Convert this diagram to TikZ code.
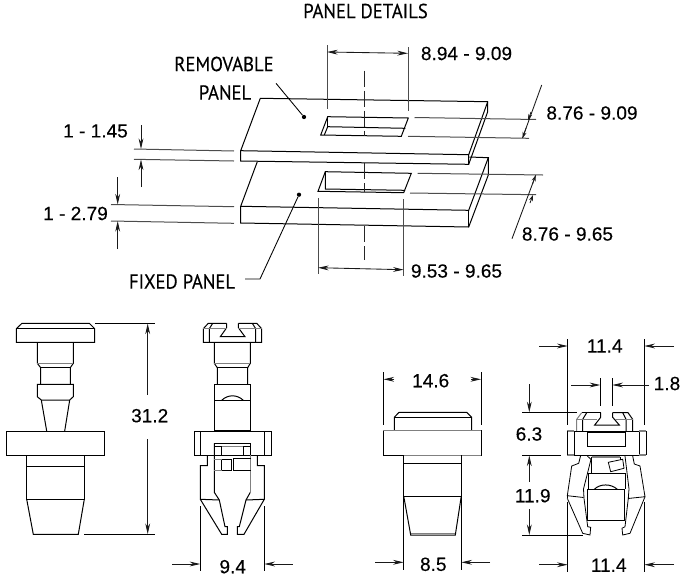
\documentclass[tikz,border=0pt]{standalone}
\usepackage{fontspec}
\setmainfont{Liberation Sans}
\newfontfamily\capfont[FakeStretch=0.92,FakeBold=0.25]{PT Sans}
\newfontfamily\sizefont[FakeBold=0.3]{Liberation Sans}
\usetikzlibrary{arrows.meta}
\tikzset{
  part/.style={line width=0.75pt,line join=miter,black},
  faint/.style={line width=0.75pt,black!50},
  dimline/.style={line width=0.65pt,black!90},
  extline/.style={line width=0.75pt,black!70},
  dimhead/.style={Stealth[length=8pt,width=3.6pt]},
  dimarrow/.style={line width=0.65pt,black!90,-{Stealth[length=8pt,width=3.6pt]}},
  smallarrow/.style={line width=0.6pt,black!90,-{Stealth[length=4.5pt,width=3pt]}},
  size/.style={font=\sizefont\fontsize{14.3pt}{16pt}\selectfont,inner sep=0pt,text=black},
  title/.style={font=\capfont\fontsize{15.2pt}{16pt}\selectfont,inner sep=0pt,text=black},
  centre/.style={line width=0.7pt,black!85,dash pattern=on 12pt off 3pt},
  lead/.style={line width=0.65pt,black},
  leaddot/.style={circle,fill=black,inner sep=0pt,minimum size=3.2pt}
}
\begin{document}
\begin{tikzpicture}[x=0.75pt,y=-0.75pt]
\useasboundingbox (0,0) rectangle (682,579);
% --- panel titles
\node[title] (tDetails) at (365.5,11) {PANEL DETAILS};
\node[title] (tRem) at (224,64) {REMOVABLE};
\node[title] (tPan) at (225,92.5) {PANEL};
\node[title] (tFix) at (182,281.5) {FIXED PANEL};
% --- upper panel
\draw[part] (260.3,98.3) -- (487.7,101.7) -- (487.7,111.7) -- (468.7,164.3) -- (240.7,161) -- (240.7,150.7) -- cycle;
\draw[part] (240.7,150.7) -- (468.7,154.7) -- (468.7,164.3);
\draw[part] (468.7,154.7) -- (487.7,101.7);
\draw[part] (327.7,116.7) -- (408.3,118) -- (401.3,136.3) -- (320.7,135) -- cycle;
\draw[part] (324.3,135) -- (327.7,126.7) -- (405.3,128.3);
\draw[part] (327.7,116.7) -- (327.7,126.7);
% --- lower panel
\draw[part] (257.3,161.7) -- (240.7,206.3) -- (468.7,210.3) -- (488.3,157.7) -- (469.3,157);
\draw[part] (240.7,206.3) -- (240.7,223) -- (468.7,227) -- (488.3,175) -- (488.3,157.7);
\draw[part] (468.7,210.3) -- (468.7,227);
\draw[part] (325.3,171.7) -- (411.3,173.3) -- (403.7,192.7) -- (318,191.3) -- cycle;
\draw[part] (325.3,171.7) -- (325.3,189) -- (405,190.3);
% --- centre line
\draw[centre] (364,70.7) -- (364,136);
\draw[centre] (364,163) -- (364,192);
\draw[centre] (364,226) -- (364,260);
% --- panel dimensions
\draw[extline] (327,45) -- (327,109);
\draw[extline] (408,47) -- (408,111);
\draw[dimline,{Stealth[length=8pt,width=3.6pt]}-{Stealth[length=8pt,width=3.6pt]}] (327,52) -- (408,53.3);
\node[size] (d894) at (466.5,53.5) {8.94 - 9.09};
\draw[extline] (414.5,117.5) -- (536,119.5);
\draw[extline] (408,136.3) -- (529,138.3);
\draw[dimline] (541.7,85) -- (522.5,138);
\draw[smallarrow] (531,112) -- (528.2,120);
\draw[smallarrow] (526,128) -- (522.7,138);
\node[size] (d876a) at (592,113) {8.76 - 9.09};
\draw[extline] (417.7,173.3) -- (543,175);
\draw[extline] (410,193) -- (536,194.7);
\draw[dimline] (535.7,175.3) -- (512,238.7);
\draw[smallarrow] (532.5,184) -- (535.7,175.3);
\draw[smallarrow] (530,203) -- (533,195);
\node[size] (d876b) at (567.5,234) {8.76 - 9.65};
\draw[extline] (318,198) -- (318,274);
\draw[extline] (403.7,199) -- (403.7,276);
\draw[dimline,{Stealth[length=8pt,width=3.6pt]}-{Stealth[length=8pt,width=3.6pt]}] (318,267.7) -- (403.7,269.7);
\node[size] (d953) at (456.5,271) {9.53 - 9.65};
\draw[extline] (134,149) -- (234,151);
\draw[extline] (134,159.3) -- (234,161);
\draw[dimarrow] (141,125) -- (141,149);
\draw[dimarrow] (141,187) -- (141,159.5);
\node[size] (d145) at (95.5,131) {1 - 1.45};
\draw[extline] (111,204.5) -- (234,206.7);
\draw[extline] (111,221) -- (234,223.3);
\draw[dimarrow] (117.7,177) -- (117.7,204.5);
\draw[dimarrow] (117.7,249) -- (117.7,221);
\node[size] (d279) at (75.5,213.5) {1 - 2.79};
% --- leaders
\node[leaddot] (dotRem) at (304,117) {};
\node[leaddot] (dotFix) at (299,194.7) {};
\coordinate (kneeFix) at (260,279);
\coordinate (endFix) at (245,279);
\coordinate (endRem) at (276,83.3);
\draw[lead] (endRem) -- (dotRem);
\draw[lead] (dotFix) -- (kneeFix) -- (endFix);
% --- part 1: side view
\draw[part] (22,323.3) -- (89.3,323.3) -- (94.7,328.7) -- (94.7,342.3) -- (16.3,342.3) -- (16.3,328.7) -- cycle;
\draw[part] (16.3,328.7) -- (94.7,328.7);
\draw[part] (37.3,342.3) -- (37.3,363.3) -- (40.7,367.7) -- (40.7,384.3);
\draw[part] (73.3,342.3) -- (73.3,363.3) -- (70.3,367.7) -- (70.3,384.3);
\draw[faint] (37.3,363.3) -- (73.3,363.3);
\draw[part] (40.7,367.7) -- (70.3,367.7);
\draw[part] (37.3,384.3) -- (73.3,384.3) -- (73.3,396.7) -- (69.7,400) -- (41.3,400) -- (37.3,396.7) -- cycle;
\draw[part] (41.3,400) -- (46.7,431);
\draw[part] (69.7,400) -- (64.7,431);
\draw[part] (6.3,431) rectangle (104.7,455.3);
\draw[part] (26.7,455.3) -- (26.7,499.3) -- (84.3,499.3) -- (84.3,455.3);
\draw[part] (26.7,466) -- (84.3,466);
\draw[part] (26.7,499.3) -- (33.3,534.3) -- (78.3,534.3) -- (84.3,499.3);
\draw[part] (95,323.3) -- (155,323.3);
\draw[part] (84,534.3) -- (155,534.3);
\draw[dimarrow] (147.7,394.7) -- (147.7,323.5);
\draw[dimarrow] (147.7,439) -- (147.7,534.1);
\node[size] (d312) at (149.7,415.7) {31.2};
% --- part 2: front view
\draw[part] (226.7,323.3) -- (208.3,323.3) -- (203.3,328.7) -- (203.3,342.3) -- (261.7,342.3) -- (261.7,328.7) -- (256.7,323.3) -- (238.3,323.3);
\draw[part] (226.7,323.3) -- (226.7,327.7) -- (220.3,336.7) -- (245,336.7) -- (238.3,327.7) -- (238.3,323.3);
\draw[part] (209.3,342.3) -- (209.3,328.7) -- (212.7,323.3);
\draw[part] (255.7,342.3) -- (255.7,328.7) -- (252.3,323.3);
\draw[faint] (203.3,328.7) -- (226.7,328.7);
\draw[faint] (238,328.7) -- (261.7,328.7);
\draw[part] (214.3,342.3) -- (214.3,363.3) -- (217.3,367.7) -- (217.3,384.3);
\draw[part] (250.3,342.3) -- (250.3,363.3) -- (247.7,367.7) -- (247.7,384.3);
\draw[faint] (214.3,363.3) -- (250.3,363.3);
\draw[part] (217.3,367.7) -- (247.7,367.7);
\draw[part] (214.3,384.3) rectangle (250.3,430.3);
\draw[part] (214.3,400.3) -- (250.3,400.3);
\draw[part] (221.7,400.3) .. controls (228,394.3) and (237,394.3) .. (243.3,400.3);
\draw[part,line width=1.1pt] (214.3,430.3) -- (250.3,430.3);
\draw[part] (194.3,431) rectangle (271.7,455.3);
\draw[part] (200.3,431) -- (200.3,455.3);
\draw[part] (264.3,431) -- (264.3,455.3);
\draw[part] (214.3,443.3) -- (250.3,443.3) -- (250.3,455.3);
\draw[part] (214.3,446) -- (221.7,446) -- (221.7,455.3);
\draw[faint] (221.7,446) -- (243.3,446);
\draw[part] (243.3,455.3) -- (243.3,446) -- (250.3,446);
\draw[part] (207.3,455.3) -- (207.3,465.7) -- (200.3,465.7) -- (200.3,499.3) -- (221.7,534.3) -- (227.3,534.3) -- (227.3,526.7) -- (225,526.7) -- (219.3,500) -- (214.3,492.3) -- (214.3,443.3);
\draw[part] (257.3,455.3) -- (257.3,465.7) -- (264.3,465.7) -- (264.3,499.3) -- (244,534.3) -- (237.3,534.3) -- (237.3,526.7) -- (239.3,526.7) -- (246,500) -- (250.3,492.3);
\draw[faint] (250.3,455.3) -- (250.3,492.3);
\draw[part] (200.3,499.3) -- (219.3,500);
\draw[part] (246,500) -- (264.3,499.3);
\draw[part] (221.7,459.3) rectangle (231.7,470.7);
\draw[part] (251,458.3) -- (233.3,458.3) -- (233.3,470.7) -- (251,470.7);
\draw[faint] (214.3,459.3) -- (221.7,459.3);
\draw[faint] (214.3,470.7) -- (221.7,470.7);
\draw[part] (200.3,506) -- (200.3,570.7);
\draw[part] (264.3,506) -- (264.3,570.7);
\draw[dimarrow] (172,564) -- (200.3,564);
\draw[dimarrow] (292.7,564) -- (264.3,564);
\node[size] (d94) at (232.7,566.7) {9.4};
% --- part 3: side view
\draw[part] (399,412.3) -- (466.7,412.3) -- (471.7,417.3) -- (471.7,430.7);
\draw[part] (399,412.3) -- (394.3,417.3) -- (394.3,430.7);
\draw[part] (394.3,417.3) -- (471.7,417.3);
\draw[part] (383,430.7) rectangle (481.3,455.3);
\draw[faint,line width=1pt] (383,430.7) -- (481.3,430.7);
\draw[faint,line width=1pt] (403.7,455.3) -- (481.3,455.3);
\draw[part] (403.7,455.3) -- (403.7,570);
\draw[part] (461.3,455.3) -- (461.3,570);
\draw[part] (403.7,463.3) -- (461.3,463.3);
\draw[part] (403.7,496) -- (461.3,496);
\draw[part] (403.7,496) -- (410.7,535) -- (455.3,535) -- (461.3,496);
\draw[faint] (410.7,533.3) -- (455.3,533.3);
\draw[part] (383.3,372) -- (383.3,425);
\draw[part] (481.3,372) -- (481.3,425);
\draw[dimarrow] (394.3,379.3) -- (383.5,379.3);
\draw[dimarrow] (471,379.3) -- (481.1,379.3);
\node[size] (d146) at (430.7,380.7) {14.6};
\draw[dimarrow] (375,562.3) -- (403.7,562.3);
\draw[dimarrow] (490,562.3) -- (461.3,562.3);
\node[size] (d85) at (433.3,564.3) {8.5};
% --- part 4: front view, turned
\draw[part] (600.7,412.7) -- (600.7,417.3) -- (594.7,425) -- (619.3,425) -- (612.7,417.3) -- (612.7,412.7);
\draw[part] (600.7,412.7) -- (581.7,412.7);
\draw[part] (612.7,412.7) -- (628,412.7) -- (632.7,419.3) -- (632.7,431);
\draw[faint] (581.7,412.7) -- (576.7,419.3) -- (576.7,431);
\draw[part] (582.7,431) -- (582.7,419.3) -- (586.7,412.7);
\draw[part] (626,431) -- (626,419.3) -- (622.7,412.7);
\draw[faint] (576.7,419.3) -- (597,419.3);
\draw[faint] (615,419.3) -- (632.7,419.3);
\draw[part] (574.3,431) rectangle (639.3,455);
\draw[faint,line width=0.9pt] (567.3,431) -- (574.3,431) (639.3,431) -- (646,431) (567.3,455) -- (574.3,455) (639.3,455) -- (646,455);
\draw[part,line width=0.5pt] (567.3,431) -- (567.3,455);
\draw[part,line width=0.5pt] (646,431) -- (646,455);
\draw[part] (625,432.3) -- (625,446.7) -- (587.7,446.7);
\draw[part,line width=1.1pt] (587.7,432.3) -- (587.7,446.7);
\draw[part] (587.7,432.3) -- (625,432.3);
\draw[faint,line width=1.2pt] (591.7,456.7) -- (620,456.7);
\draw[part,line width=0.6pt] (580.7,455.3) -- (578.7,463.3) -- (571.7,466) -- (567.3,495.7) -- (583.5,497.5);
\draw[part,line width=0.6pt] (567.3,498.3) -- (582.7,533.3) -- (590,535) -- (590.7,527.3) -- (587.7,526.7) -- (584,498.3) -- (583.5,489) -- (591,459.3) -- (587.3,456);
\draw[part,line width=0.6pt] (567.3,495.7) -- (567.3,498.3);
\draw[part,line width=0.6pt] (632.7,456) -- (634.3,464) -- (640,466) -- (645,496.7) -- (628,498.5);
\draw[part,line width=0.6pt] (645,496.7) -- (630,533.3) -- (622.7,535) -- (622,528.3) -- (625,526.7) -- (628.3,498.3) -- (629,489) -- (625,456);
\draw[part] (591.7,456.7) -- (591.7,473.3);
\draw[part] (620,456.7) -- (620,459.5);
\draw[part,line width=0.6pt] (608.3,462.3) -- (622.7,459.3) -- (624,468.3) -- (610.7,471.7) -- cycle;
\draw[part] (588.3,489.3) -- (588.3,473.3) -- (625,473.3) -- (625,489.3);
\draw[part] (587.3,489.3) rectangle (624.8,520);
\draw[part] (594.3,489.3) .. controls (600,483.5) and (611,483.5) .. (617.3,489.3);
\draw[part] (567.7,339) -- (567.7,425);
\draw[part] (644.3,339) -- (644.3,425);
\draw[dimarrow] (539,346) -- (567.7,346);
\draw[dimarrow] (674,346) -- (644.3,346);
\node[size] (d114a) at (604.7,346) {11.4};
\draw[part] (600.3,378.3) -- (600.3,406);
\draw[part] (612.3,378.3) -- (612.3,406);
\draw[dimarrow] (571,385) -- (600.3,385);
\draw[dimarrow] (649,385) -- (612.3,385);
\node[size] (d18) at (667,383.5) {1.8};
\draw[part] (522.3,412.3) -- (576.7,412.3);
\draw[part] (522.3,455.3) -- (560.7,455.3);
\draw[part] (522.3,535.3) -- (582.7,535.3);
\draw[dimarrow] (529.3,384) -- (529.3,412.3);
\draw[dimarrow] (529.3,481.7) -- (529.3,455.5);
\draw[dimarrow] (529.3,509) -- (529.3,535.1);
\node[size] (d63) at (529,434) {6.3};
\node[size] (d119) at (532.7,495.7) {11.9};
\draw[part] (567.7,501.7) -- (567.7,571.7);
\draw[part] (644.3,501.7) -- (644.3,571.7);
\draw[dimarrow] (539,564.7) -- (567.7,564.7);
\draw[dimarrow] (674,564.7) -- (644.3,564.7);
\node[size] (d114b) at (608.7,565.3) {11.4};
\end{tikzpicture}
\end{document}
